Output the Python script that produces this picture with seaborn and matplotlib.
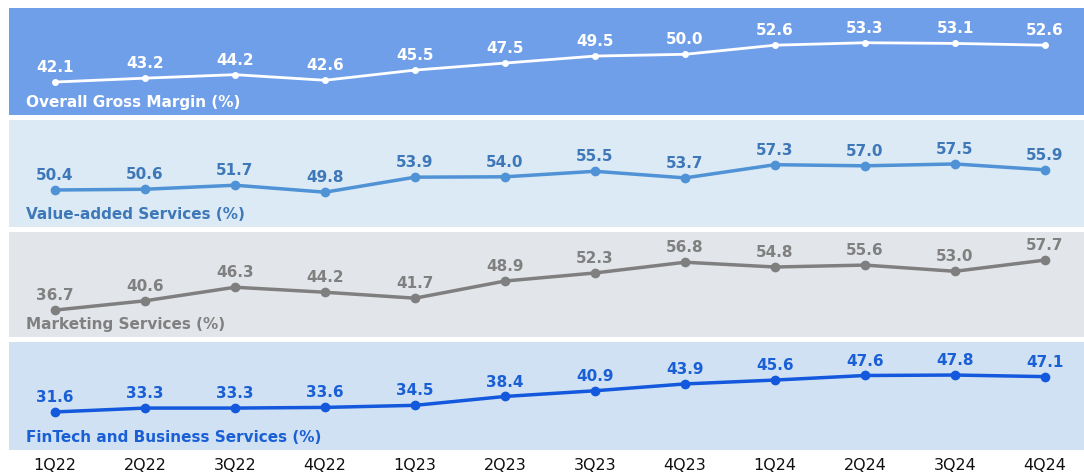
import matplotlib
matplotlib.use("Agg")
import matplotlib.pyplot as plt
import pandas as pd
import seaborn as sns

QUARTERS = ["1Q22", "2Q22", "3Q22", "4Q22", "1Q23", "2Q23", "3Q23", "4Q23",
            "1Q24", "2Q24", "3Q24", "4Q24"]
GROSS_MARGIN = [42.1, 43.2, 44.2, 42.6, 45.5, 47.5, 49.5, 50.0, 52.6, 53.3, 53.1, 52.6]
VALUE_ADDED = [50.4, 50.6, 51.7, 49.8, 53.9, 54.0, 55.5, 53.7, 57.3, 57.0, 57.5, 55.9]
MARKETING = [36.7, 40.6, 46.3, 44.2, 41.7, 48.9, 52.3, 56.8, 54.8, 55.6, 53.0, 57.7]
FINTECH = [31.6, 33.3, 33.3, 33.6, 34.5, 38.4, 40.9, 43.9, 45.6, 47.6, 47.8, 47.1]

W, H = 1084, 473

# (title, values, bg, line colour, label colour, panel top/bottom px, ylim, line width, marker size)
PANELS = [
    ("Overall Gross Margin (%)", GROSS_MARGIN, "#709fea", "#ffffff", "#ffffff",
     8, 115, (32.7, 63.2), 2.0, 5),
    ("Value-added Services (%)", VALUE_ADDED, "#dbeaf4", "#4f92d6", "#3f78b8",
     120, 227, (40.3, 69.5), 2.5, 7),
    ("Marketing Services (%)", MARKETING, "#e2e6ea", "#7f7f7f", "#808080",
     232, 337, (25.4, 69.5), 2.5, 7),
    ("FinTech and Business Services (%)", FINTECH, "#cfe1f2", "#1358dd", "#1a5fd6",
     342, 450, (14.9, 62.3), 2.5, 7),
]

sns.set_theme(style="white")
plt.rcParams["font.family"] = ["DejaVu Sans"]

fig = plt.figure(figsize=(W / 100, H / 100), dpi=100)
fig.patch.set_facecolor("white")

left_px, right_px = 9, 1084
xlim = (-0.511, 11.433)

axes = []
for title, values, bg, line_c, lab_c, top, bottom, ylim, lw, ms in PANELS:
    ax = fig.add_axes([left_px / W, 1 - bottom / H, (right_px - left_px) / W, (bottom - top) / H])
    df = pd.DataFrame({"x": range(len(QUARTERS)), "y": values})
    sns.lineplot(data=df, x="x", y="y", ax=ax, color=line_c, linewidth=lw,
                 marker="o", markersize=ms, markeredgewidth=0)
    ax.set_facecolor(bg)
    ax.set_xlim(*xlim)
    ax.set_ylim(*ylim)
    for i, v in enumerate(values):
        ax.annotate(f"{v:.1f}", (i, v), xytext=(0, 5), textcoords="offset points",
                    ha="center", va="bottom", fontsize=11, fontweight="bold", color=lab_c)
    ax.text(17 / (right_px - left_px), 0.05, title, transform=ax.transAxes,
            ha="left", va="bottom", fontsize=11, fontweight="bold", color=lab_c)
    ax.set_xlabel("")
    ax.set_ylabel("")
    ax.set_yticks([])
    ax.set_xticks([])
    for s in ax.spines.values():
        s.set_visible(False)
    axes.append(ax)

bottom_ax = axes[-1]
bottom_ax.set_xticks(range(len(QUARTERS)))
bottom_ax.set_xticklabels(QUARTERS, fontsize=11.5, color="#111111")
bottom_ax.tick_params(axis="x", length=0, pad=6)

fig.savefig("out.png", dpi=100, facecolor="white")
